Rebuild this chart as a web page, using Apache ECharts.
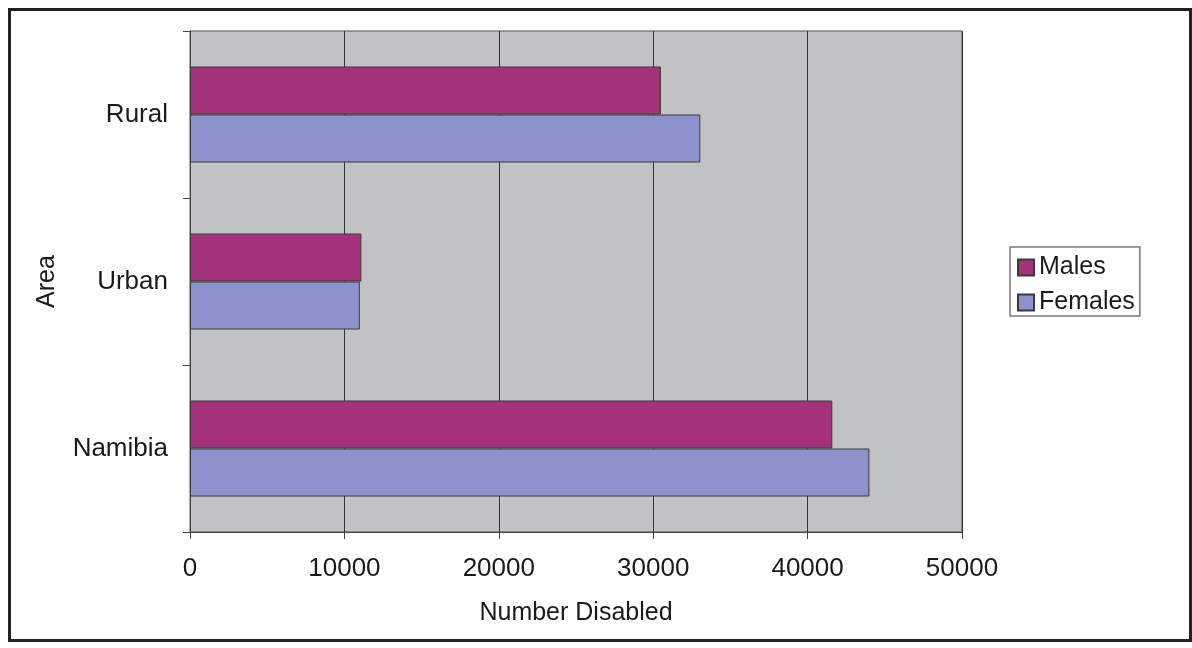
<!DOCTYPE html>
<html>
<head>
<meta charset="utf-8">
<script src="https://cdn.jsdelivr.net/npm/echarts@6/dist/echarts.min.js"></script>
<style>
html,body{margin:0;padding:0;background:#fff;}
#c{width:1192px;height:648px;}
</style>
</head>
<body>
<div id="c"></div>
<script>
var categories = ['Namibia', 'Urban', 'Rural'];
var males = [41600, 11100, 30500];
var females = [44000, 11000, 33050];
var xTicks = [0, 10000, 20000, 30000, 40000, 50000];

var font = '"Liberation Sans", Arial, sans-serif';
var chart = echarts.init(document.getElementById('c'));
chart.setOption({
  animation: false,
  backgroundColor: '#ffffff',
  graphic: [{
    type: 'rect', silent: true, z: 100,
    shape: {x: 9.5, y: 9.5, width: 1181, height: 631},
    style: {fill: 'none', stroke: '#222', lineWidth: 3}
  }],
  grid: {
    left: 190, right: 230, top: 31, bottom: 116,
    show: true, backgroundColor: '#c0c2c4', borderColor: '#555', borderWidth: 1
  },
  legend: {
    orient: 'vertical', left: 1010, top: 247,
    data: ['Males', 'Females'],
    icon: 'rect',
    padding: [8, 5, 1, 7],
    itemWidth: 16, itemHeight: 16, itemGap: 10,
    borderColor: '#777', borderWidth: 1.5,
    textStyle: {fontFamily: font, fontSize: 25, color: '#1a1a1a'}
  },
  xAxis: {
    type: 'value', min: xTicks[0], max: xTicks[xTicks.length - 1], interval: 10000,
    name: 'Number Disabled', nameLocation: 'middle', nameGap: 69,
    nameTextStyle: {fontFamily: font, fontSize: 25, color: '#1a1a1a'},
    axisLine: {show: true, lineStyle: {color: '#444', width: 1}},
    axisTick: {show: true, length: 7, lineStyle: {color: '#444'}},
    axisLabel: {fontFamily: font, fontSize: 26, color: '#1a1a1a', margin: 24,
      formatter: function (v) { return String(v); }},
    splitLine: {show: true, lineStyle: {color: '#333', width: 1}}
  },
  yAxis: {
    type: 'category', data: categories,
    name: 'Area', nameLocation: 'middle', nameGap: 130, nameRotate: 90,
    nameTextStyle: {fontFamily: font, fontSize: 25, color: '#1a1a1a'},
    axisLine: {show: true, lineStyle: {color: '#444', width: 1}},
    axisTick: {show: true, length: 7, lineStyle: {color: '#444'}},
    axisLabel: {fontFamily: font, fontSize: 26, color: '#1a1a1a', margin: 22}
  },
  series: [{
    name: 'Males', type: 'bar', data: males,
    barWidth: 48, barGap: '0%',
    itemStyle: {color: '#a3327a', borderColor: '#3a3a3a', borderWidth: 1}
  }, {
    name: 'Females', type: 'bar', data: females,
    barWidth: 48, barGap: '0%',
    itemStyle: {color: '#8c93cc', borderColor: '#3a3a3a', borderWidth: 1}
  }]
});
</script>
</body>
</html>
